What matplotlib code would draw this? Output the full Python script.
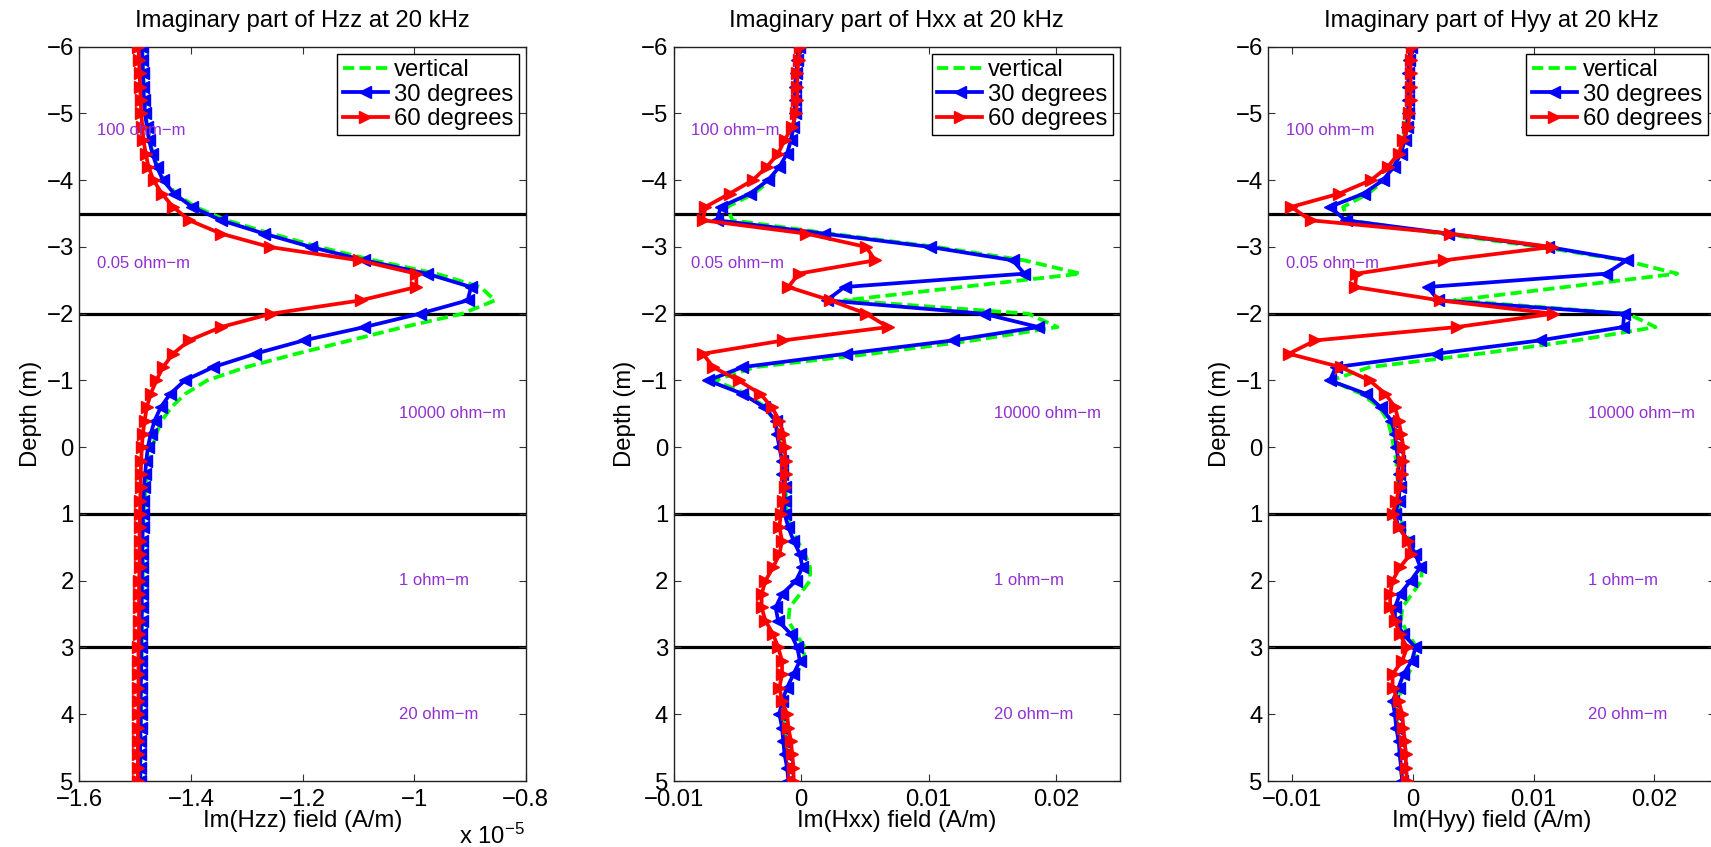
import numpy as np
import matplotlib
matplotlib.use("Agg")
import matplotlib.pyplot as plt
from matplotlib.ticker import FuncFormatter, FixedLocator

plt.rcParams['font.family'] = ['Liberation Sans', 'DejaVu Sans']
plt.rcParams['mathtext.fontset'] = 'custom'
plt.rcParams['mathtext.rm'] = 'Liberation Sans'
plt.rcParams['mathtext.it'] = 'Liberation Sans:italic'

# ---------------- data ----------------
depth = np.round(np.linspace(-6.0, 5.0, 56), 1)   # m, sampling every 0.2 m

# Hzz imaginary part, in units of 1e-5 A/m
hzz_scale = 1e-5
hzz_vertical = [-1.487, -1.486, -1.485, -1.484, -1.483, -1.481, -1.478, -1.474, -1.468, -1.460,
                -1.448, -1.427, -1.392, -1.336, -1.256, -1.170, -1.072, -0.960, -0.881, -0.855,
                -0.914, -1.019, -1.115, -1.211, -1.301, -1.371, -1.410, -1.435, -1.452, -1.462,
                -1.469, -1.474, -1.478, -1.481, -1.483, -1.484, -1.485, -1.485, -1.486, -1.486,
                -1.486, -1.487, -1.487, -1.487, -1.488, -1.488, -1.488, -1.489, -1.489, -1.489,
                -1.489, -1.490, -1.490, -1.490, -1.490, -1.490]
hzz_30deg = [-1.488, -1.487, -1.486, -1.485, -1.484, -1.482, -1.479, -1.475, -1.469, -1.461,
             -1.450, -1.430, -1.398, -1.346, -1.269, -1.185, -1.089, -0.977, -0.898, -0.904,
             -0.990, -1.089, -1.198, -1.285, -1.360, -1.411, -1.437, -1.454, -1.465, -1.472,
             -1.477, -1.480, -1.482, -1.484, -1.485, -1.486, -1.486, -1.487, -1.487, -1.487,
             -1.488, -1.488, -1.488, -1.488, -1.489, -1.489, -1.489, -1.489, -1.490, -1.490,
             -1.490, -1.490, -1.491, -1.491, -1.491, -1.491]
hzz_60deg = [-1.494, -1.493, -1.492, -1.491, -1.490, -1.489, -1.487, -1.485, -1.481, -1.476,
             -1.467, -1.452, -1.432, -1.403, -1.346, -1.259, -1.099, -0.996, -0.996, -1.096,
             -1.256, -1.346, -1.403, -1.432, -1.450, -1.462, -1.472, -1.479, -1.483, -1.486,
             -1.488, -1.489, -1.490, -1.490, -1.491, -1.491, -1.492, -1.492, -1.492, -1.492,
             -1.493, -1.493, -1.493, -1.493, -1.493, -1.494, -1.494, -1.494, -1.494, -1.494,
             -1.494, -1.495, -1.495, -1.495, -1.495, -1.495]

# Hxx imaginary part, A/m
hxx_vertical = [-0.0002, -0.0003, -0.0003, -0.0004, -0.0004, -0.0005, -0.0006, -0.0008, -0.0011, -0.0016,
                -0.0024, -0.0037, -0.0058, -0.0054, 0.0023, 0.0106, 0.0175, 0.0219, 0.0126, 0.0034,
                0.0178, 0.0201, 0.0135, 0.0055, -0.0036, -0.0068, -0.0043, -0.0028, -0.0021, -0.0018,
                -0.0016, -0.0014, -0.0013, -0.0012, -0.0012, -0.0011, -0.0008, -0.0003, 0.0003, 0.0007,
                0.0007, -0.0001, -0.0009, -0.0010, -0.0004, 0.0003, 0.0002, -0.0004, -0.0009, -0.0013,
                -0.0014, -0.0013, -0.0012, -0.0011, -0.0010, -0.0009]
hxx_30deg = [-0.0002, -0.0003, -0.0004, -0.0005, -0.0005, -0.0005, -0.0006, -0.0008, -0.0011, -0.0017,
             -0.0026, -0.0040, -0.0063, -0.0066, 0.0018, 0.0101, 0.0166, 0.0175, 0.0034, 0.0020,
             0.0143, 0.0186, 0.0119, 0.0035, -0.0046, -0.0073, -0.0046, -0.0029, -0.0020, -0.0019,
             -0.0017, -0.0015, -0.0015, -0.0013, -0.0013, -0.0013, -0.0010, -0.0006, -0.0001, 0.0001,
             -0.0004, -0.0015, -0.0020, -0.0018, -0.0008, -0.0003, -0.0001, -0.0006, -0.0011, -0.0015,
             -0.0017, -0.0015, -0.0014, -0.0013, -0.0011, -0.0010]
hxx_60deg = [-0.0001, -0.0002, -0.0003, -0.0003, -0.0003, -0.0004, -0.0007, -0.0013, -0.0018, -0.0027,
             -0.0038, -0.0056, -0.0075, -0.0077, 0.0004, 0.0051, 0.0058, -0.0002, -0.0010, 0.0023,
             0.0051, 0.0068, -0.0014, -0.0077, -0.0069, -0.0049, -0.0032, -0.0023, -0.0017, -0.0014,
             -0.0013, -0.0012, -0.0012, -0.0013, -0.0014, -0.0016, -0.0017, -0.0015, -0.0017, -0.0022,
             -0.0028, -0.0031, -0.0031, -0.0028, -0.0022, -0.0018, -0.0015, -0.0015, -0.0017, -0.0015,
             -0.0011, -0.0010, -0.0008, -0.0007, -0.0006, -0.0006]

# Hyy imaginary part, A/m
hyy_vertical = [-0.0002, -0.0003, -0.0003, -0.0004, -0.0004, -0.0005, -0.0006, -0.0008, -0.0011, -0.0016,
                -0.0024, -0.0037, -0.0058, -0.0054, 0.0023, 0.0106, 0.0175, 0.0219, 0.0126, 0.0034,
                0.0178, 0.0201, 0.0135, 0.0055, -0.0036, -0.0068, -0.0043, -0.0028, -0.0021, -0.0018,
                -0.0016, -0.0014, -0.0013, -0.0012, -0.0012, -0.0011, -0.0008, -0.0003, 0.0003, 0.0007,
                0.0007, -0.0001, -0.0009, -0.0010, -0.0004, 0.0003, 0.0002, -0.0004, -0.0009, -0.0013,
                -0.0014, -0.0013, -0.0012, -0.0011, -0.0010, -0.0009]
hyy_30deg = [-0.0002, -0.0003, -0.0004, -0.0004, -0.0004, -0.0004, -0.0005, -0.0007, -0.0010, -0.0016,
             -0.0025, -0.0041, -0.0069, -0.0056, 0.0029, 0.0112, 0.0177, 0.0160, 0.0012, 0.0021,
             0.0175, 0.0174, 0.0105, 0.0019, -0.0064, -0.0069, -0.0039, -0.0027, -0.0018, -0.0015,
             -0.0014, -0.0012, -0.0012, -0.0011, -0.0012, -0.0015, -0.0012, -0.0004, 0.0002, 0.0006,
             -0.0002, -0.0011, -0.0015, -0.0015, -0.0008, 0.0002, -0.0001, -0.0008, -0.0012, -0.0017,
             -0.0015, -0.0014, -0.0012, -0.0011, -0.0010, -0.0009]
hyy_60deg = [-0.0001, -0.0002, -0.0002, -0.0002, -0.0002, -0.0003, -0.0004, -0.0008, -0.0012, -0.0021,
             -0.0035, -0.0061, -0.0101, -0.0085, 0.0031, 0.0115, 0.0026, -0.0047, -0.0048, 0.0022,
             0.0116, 0.0036, -0.0081, -0.0103, -0.0060, -0.0036, -0.0023, -0.0015, -0.0012, -0.0010,
             -0.0008, -0.0008, -0.0009, -0.0011, -0.0014, -0.0017, -0.0012, -0.0004, -0.0002, -0.0011,
             -0.0017, -0.0019, -0.0019, -0.0015, -0.0011, -0.0005, -0.0009, -0.0017, -0.0017, -0.0012,
             -0.0009, -0.0008, -0.0007, -0.0006, -0.0006, -0.0005]

layer_boundaries = [-3.5, -2.0, 1.0, 3.0]
layer_labels = ['100 ohm\u2212m', '0.05 ohm\u2212m', '10000 ohm\u2212m', '1 ohm\u2212m', '20 ohm\u2212m']
layer_label_depths = [-4.75, -2.75, -0.5, 2.0, 4.0]
series_labels = ['vertical', '30 degrees', '60 degrees']
titles = ['Imaginary part of Hzz at 20 kHz', 'Imaginary part of Hxx at 20 kHz',
          'Imaginary part of Hyy at 20 kHz']
xlabels = ['Im(Hzz) field (A/m)', 'Im(Hxx) field (A/m)', 'Im(Hyy) field (A/m)']
depth_ticks = list(range(-6, 6))
hzz_ticks = [-1.6, -1.4, -1.2, -1.0, -0.8]
hxx_ticks = [-0.01, 0.0, 0.01, 0.02]
hyy_ticks = [-0.01, 0.0, 0.01, 0.02]

# ---------------- figure ----------------
W, H = 1711, 847
fig = plt.figure(figsize=(W / 100, H / 100), dpi=100)
FS = 17.2
PURPLE = '#9030d0'


def add_ax(left, right, top, bottom):
    return fig.add_axes([left / W, 1 - bottom / H, (right - left) / W, (bottom - top) / H])


def fmt_factory(scale):
    def f(v, pos):
        val = round(v / scale, 6)
        if abs(val) < 1e-12:
            return '0'
        return f"{val:g}".replace('-', '\u2212')
    return FuncFormatter(f)


panels = [
    dict(box=(79.3, 525.7, 46.7, 781), scale=hzz_scale,
         xlim=(-1.6, -0.8), ticks=hzz_ticks,
         series=(hzz_vertical, hzz_30deg, hzz_60deg),
         text_x=(-1.568, -1.027)),
    dict(box=(673.6, 1120.0, 46.7, 781), scale=1.0,
         xlim=(-0.01, 0.025), ticks=hxx_ticks,
         series=(hxx_vertical, hxx_30deg, hxx_60deg),
         text_x=(-0.0086, 0.0151)),
    dict(box=(1268.3, 1714.7, 46.7, 781), scale=1.0,
         xlim=(-0.012, 0.025), ticks=hyy_ticks,
         series=(hyy_vertical, hyy_30deg, hyy_60deg),
         text_x=(-0.0105, 0.0145)),
]

for i, p in enumerate(panels):
    ax = add_ax(*p['box'])
    s = p['scale']
    v, b, r = [np.asarray(a) * s for a in p['series']]

    for yb in layer_boundaries:
        ax.axhline(yb, color='black', lw=2.3, zorder=1)

    lv, = ax.plot(v, depth, color=(0, 1, 0), lw=2.7, linestyle=(0, (3.0, 1.4)), zorder=2,
                  label=series_labels[0])
    lb, = ax.plot(b, depth, color=(0, 0, 1), lw=2.7, marker='<', ms=9.3, mew=1,
                  mfc=(0, 0, 1), mec=(0, 0, 1), zorder=3, label=series_labels[1])
    lr, = ax.plot(r, depth, color=(1, 0, 0), lw=2.7, marker='>', ms=9.3, mew=1,
                  mfc=(1, 0, 0), mec=(1, 0, 0), zorder=4, label=series_labels[2])

    ax.set_xlim(p['xlim'][0] * s, p['xlim'][1] * s)
    ax.set_ylim(5, -6)
    ax.xaxis.set_major_locator(FixedLocator([t * s for t in p['ticks']]))
    ax.xaxis.set_major_formatter(fmt_factory(s))
    ax.yaxis.set_major_locator(FixedLocator(depth_ticks))
    ax.yaxis.set_major_formatter(fmt_factory(1.0))
    ax.tick_params(direction='in', length=5, width=0.8, top=True, right=True,
                   labelsize=FS, color='#333333')
    ax.tick_params(axis='x', pad=6)
    ax.tick_params(axis='y', pad=4)
    for sp in ax.spines.values():
        sp.set_linewidth(1.0)
        sp.set_color('#222222')

    ax.set_title(titles[i], fontsize=FS, pad=14.4)
    ax.set_xlabel(xlabels[i], fontsize=FS, labelpad=-1)
    ax.set_ylabel('Depth (m)', fontsize=FS, labelpad=3.5)

    tx_left, tx_right = p['text_x']
    for k, (lab, dy) in enumerate(zip(layer_labels, layer_label_depths)):
        xx = tx_left if k < 2 else tx_right
        ax.text(xx * s, dy, lab, color=PURPLE, fontsize=12, ha='left', va='center', zorder=5)

    leg = ax.legend(handles=[lv, lb, lr], loc='upper right', fontsize=FS, fancybox=False,
                    framealpha=1, edgecolor='black', handlelength=1.9, handletextpad=0.25,
                    borderpad=0.22, labelspacing=0.1, borderaxespad=0.3, numpoints=1)
    leg.get_frame().set_linewidth(1.0)
    leg.set_zorder(10)

fig.text(525 / W, 3 / H, r'x 10$^{-5}$', ha='right', va='baseline', fontsize=FS)

fig.savefig('out.png', dpi=100)
